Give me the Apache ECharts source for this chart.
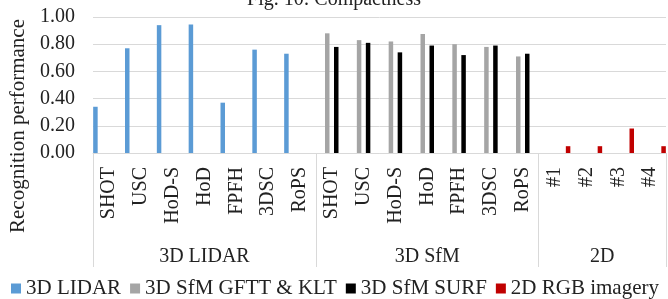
<!DOCTYPE html>
<html>
<head>
<meta charset="utf-8">
<script src="https://cdn.jsdelivr.net/npm/echarts@6/dist/echarts.min.js"></script>
<style>
    html, body { margin: 0; padding: 0; background: #fff; }
    #chart { width: 668px; height: 299px; }
</style>
</head>
<body>
<div id="chart"></div>
<script>
var categories = ["SHOT", "USC", "HoD-S", "HoD", "FPFH", "3DSC", "RoPS",
    "SHOT", "USC", "HoD-S", "HoD", "FPFH", "3DSC", "RoPS",
    "#1", "#2", "#3", "#4"];
var groups = ["3D LIDAR", "3D SfM", "2D"];
var groupSizes = [7, 7, 4];
var yTicks = [0, 0.2, 0.4, 0.6, 0.8, 1.0];

var lidar = [0.34, 0.77, 0.94, 0.945, 0.37, 0.76, 0.73,
    null, null, null, null, null, null, null, null, null, null, null];
var sfmGftt = [null, null, null, null, null, null, null,
    0.88, 0.83, 0.82, 0.875, 0.80, 0.78, 0.71, null, null, null, null];
var sfmSurf = [null, null, null, null, null, null, null,
    0.78, 0.81, 0.74, 0.79, 0.72, 0.79, 0.73, null, null, null, null];
var rgb2d = [null, null, null, null, null, null, null,
    null, null, null, null, null, null, null, 0.05, 0.05, 0.18, 0.05];

// group borders and centres on the 0..18 scale
var borders = [0];
var centres = [];
var acc = 0;
for (var i = 0; i < groupSizes.length; i++) {
    centres.push(acc + groupSizes[i] / 2);
    acc += groupSizes[i];
    borders.push(acc);
}

var font = "Liberation Serif";
var gridColor = "#d9d9d9";

var myChart = echarts.init(document.getElementById("chart"));

function bar(name, data, color) {
    return {
        name: name,
        type: "bar",
        data: data,
        barWidth: 4.5,
        barGap: "100%",
        itemStyle: {color: color}
    };
}

var legendText = {fontFamily: font, fontSize: 21, color: "#222"};

var option = {
    animation: false,
    textStyle: {fontFamily: font},
    title: {
        text: "Fig. 10: Compactness",
        left: "center",
        top: -15,
        textStyle: {fontFamily: font, fontSize: 20, fontWeight: "normal", color: "#222"}
    },
    legend: {
        bottom: 0,
        left: 11,
        padding: [0, 0, 0, 0],
        icon: "rect",
        itemWidth: 10,
        itemHeight: 10,
        itemGap: 9,
        textStyle: legendText,
        data: ["3D LIDAR", "3D SfM GFTT & KLT", "3D SfM SURF", "2D RGB imagery"].map(function (n) {
            return {name: n, textStyle: legendText};
        })
    },
    graphic: [{
        type: "text",
        left: 8,
        top: 19,
        rotation: Math.PI / 2,
        style: {
            text: "Recognition performance",
            fontFamily: font,
            fontSize: 21,
            fill: "#222"
        }
    }],
    grid: {left: 93, right: 2, top: 17, bottom: 146},
    xAxis: [{
        type: "category",
        data: categories,
        axisLine: {lineStyle: {color: gridColor}},
        axisTick: {show: false},
        axisLabel: {
            interval: 0,
            rotate: 90,
            margin: 14,
            fontFamily: font,
            fontSize: 20,
            color: "#222"
        }
    }, {
        type: "value",
        position: "bottom",
        min: 0,
        max: categories.length,
        axisLine: {show: false},
        splitLine: {show: false},
        axisTick: {
            show: true,
            customValues: borders,
            length: 114,
            lineStyle: {color: gridColor}
        },
        axisLabel: {
            customValues: centres,
            margin: 94,
            fontFamily: font,
            fontSize: 20,
            color: "#222",
            formatter: function (v) {
                var idx = centres.indexOf(v);
                return idx >= 0 ? groups[idx] : "";
            }
        }
    }],
    yAxis: {
        type: "value",
        min: yTicks[0],
        max: yTicks[yTicks.length - 1],
        interval: 0.2,
        axisLine: {show: false},
        axisTick: {show: false},
        splitLine: {lineStyle: {color: gridColor}},
        axisLabel: {
            margin: 18,
            fontFamily: font,
            fontSize: 20,
            color: "#222",
            formatter: function (v) { return v.toFixed(2); }
        }
    },
    series: [
        bar("3D LIDAR", lidar, "#5b9bd5"),
        bar("3D SfM GFTT & KLT", sfmGftt, "#a5a5a5"),
        bar("3D SfM SURF", sfmSurf, "#000000"),
        bar("2D RGB imagery", rgb2d, "#c00000")
    ]
};
myChart.setOption(option);
</script>
</body>
</html>
